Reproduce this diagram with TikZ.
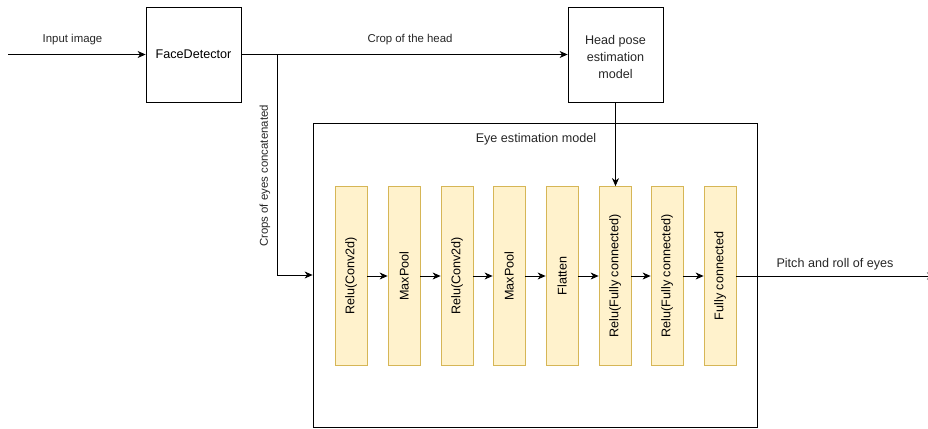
\documentclass[tikz,border=0pt]{standalone}
\usepackage{fontspec}
\setmainfont{Liberation Sans}
\usetikzlibrary{arrows.meta}
\definecolor{layerfill}{HTML}{FFF2CC}
\definecolor{layerdraw}{HTML}{D6B656}
\tikzset{
  block/.style={draw=black, line width=0.8pt, minimum width=95pt, minimum height=95pt, align=center, inner sep=0pt},
  frame/.style={draw=black, line width=0.8pt, minimum width=444pt, minimum height=304pt, inner sep=0pt},
  layer/.style={draw=layerdraw, fill=layerfill, line width=0.8pt, minimum width=32pt, minimum height=179pt, inner sep=0pt},
  flow/.style={line width=0.8pt, -{Stealth[length=8pt,width=7pt,inset=2.5pt]}},
  lbl/.style={inner sep=0pt, text=black!85},
  edgelbl/.style={lbl, font=\fontsize{11.4}{14}\selectfont}
}

\begin{document}
\begin{tikzpicture}[x=1pt, y=-1pt, font=\fontsize{12.6}{17}\selectfont]
%%%%% START %%%%%

\clip (0,0) rectangle (928,428);

% top row
\coordinate (in) at (8,54.5);
\node[block] (face) at (193.5,54.5) {FaceDetector};
\node[block] (head) at (615.5,54.5) {};
\node[lbl, align=center] (headtxt) at (615.5,57) {Head pose\\estimation\\model};
\coordinate (split) at (277,54.5);

\draw[flow] (in) -- (face);
\draw[flow] (face) -- (head);
\node[edgelbl] (inlbl) at (72.5,40) {Input image};
\node[edgelbl] (croplbl) at (410,40) {Crop of the head};

% eye estimation model
\node[frame] (eye) at (535,275) {};
\node[lbl] (eyetitle) at (536,139) {Eye estimation model};

\node[layer] (l1) at (351,276) {\rotatebox{90}{Relu(Conv2d)}};
\node[layer] (l2) at (404,276) {\rotatebox{90}{MaxPool}};
\node[layer] (l3) at (457,276) {\rotatebox{90}{Relu(Conv2d)}};
\node[layer] (l4) at (509,276) {\rotatebox{90}{MaxPool}};
\node[layer] (l5) at (562,276) {\rotatebox{90}{Flatten}};
\node[layer] (l6) at (615,276) {\rotatebox{90}{Relu(Fully connected)}};
\node[layer] (l7) at (667,276) {\rotatebox{90}{Relu(Fully connected)}};
\node[layer] (l8) at (720,276) {\rotatebox{90}{Fully connected}};

\draw[flow] (l1) -- (l2);
\draw[flow] (l2) -- (l3);
\draw[flow] (l3) -- (l4);
\draw[flow] (l4) -- (l5);
\draw[flow] (l5) -- (l6);
\draw[flow] (l6) -- (l7);
\draw[flow] (l7) -- (l8);

% crops of the eyes
\draw[flow] (split) |- (eye.west);
\node[edgelbl, rotate=90] (eyeslbl) at (265,176) {Crops of eyes concatenated};

% head pose into the first dense layer
\draw[flow] (head.south) -- (head.south |- l6.north);

% output
\coordinate (out) at (935,276);
\draw[flow] (l8) -- (out);
\node[lbl] (outlbl) at (835,264) {Pitch and roll of eyes};

%%%%% END %%%%%
\end{tikzpicture}
\end{document}
